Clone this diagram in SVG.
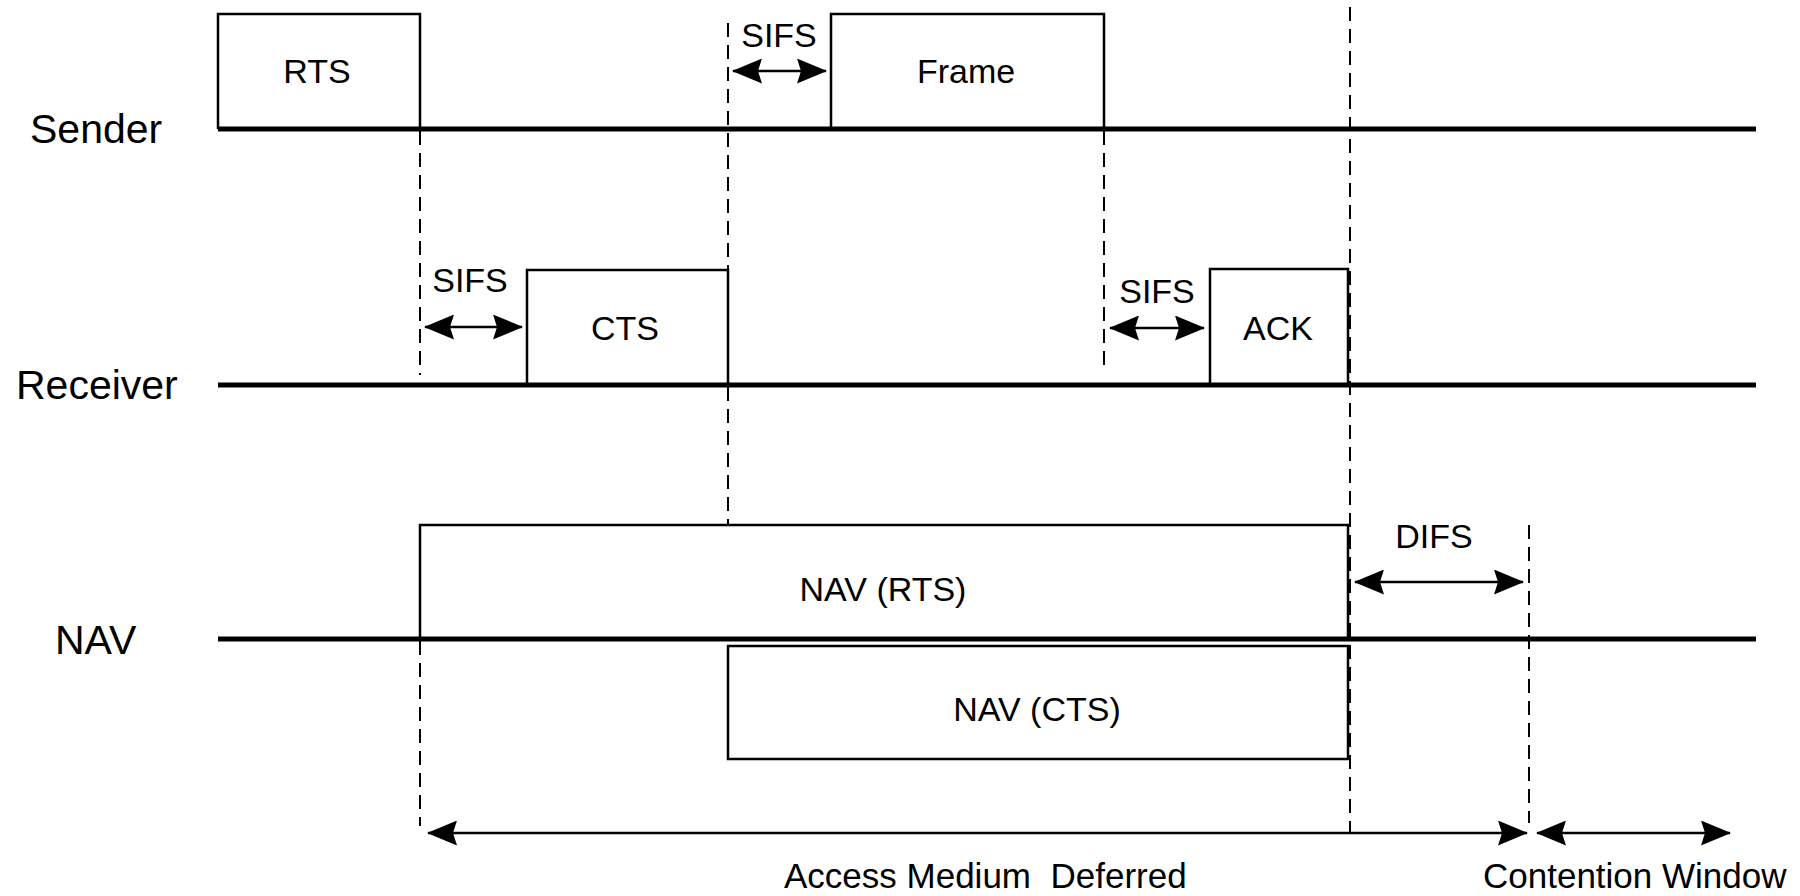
<svg xmlns="http://www.w3.org/2000/svg" width="1800" height="896" viewBox="0 0 1800 896">
<style>
  .lane { stroke:#000; stroke-width:5; fill:none; }
  .box { fill:none; stroke:#000; stroke-width:2.5; }
  .dash { stroke:#000; stroke-width:2; stroke-dasharray:14 8; fill:none; }
  .arr { stroke:#000; stroke-width:2.5; fill:none; marker-start:url(#ah); marker-end:url(#ah); }
  .lbl { font-family:"Liberation Sans", Arial, sans-serif; font-size:34px; fill:#000; text-anchor:middle; }
  .side { font-family:"Liberation Sans", Arial, sans-serif; font-size:41px; fill:#000; }
  .bot { font-family:"Liberation Sans", Arial, sans-serif; font-size:35px; fill:#000; }
</style>
<defs>
  <marker id="ah" viewBox="0 0 30 25" refX="29" refY="12.5" markerWidth="30" markerHeight="25" markerUnits="userSpaceOnUse" orient="auto-start-reverse">
    <path d="M0,0 L30,12.5 L0,25 L4,12.5 z" fill="#000"/>
  </marker>
</defs>
<rect width="1800" height="896" fill="#fff"/>

<g id="node-rts">
  <path class="box" d="M218,129 V14 H420 V129"/>
  <text class="lbl" x="317" y="83">RTS</text>
</g>
<g id="node-frame">
  <path class="box" d="M831,129 V14 H1104 V129"/>
  <text class="lbl" x="966" y="83">Frame</text>
</g>
<g id="node-cts">
  <path class="box" d="M527,385 V270 H728 V385"/>
  <text class="lbl" x="625" y="340">CTS</text>
</g>
<g id="node-ack">
  <path class="box" d="M1210,385 V269 H1348 V385"/>
  <text class="lbl" x="1278" y="340">ACK</text>
</g>
<g id="node-nav-rts">
  <path class="box" d="M420,639 V525 H1348 V639"/>
  <text class="lbl" x="883" y="601">NAV (RTS)</text>
</g>
<g id="node-nav-cts">
  <rect class="box" x="728" y="646" width="620" height="113"/>
  <text class="lbl" x="1037" y="721">NAV (CTS)</text>
</g>

<g id="lane-sender">
  <line class="lane" x1="218" y1="129" x2="1756" y2="129"/>
  <text class="side" x="30" y="143">Sender</text>
</g>
<g id="lane-receiver">
  <line class="lane" x1="218" y1="385" x2="1756" y2="385"/>
  <text class="side" x="16" y="399">Receiver</text>
</g>
<g id="lane-nav">
  <line class="lane" x1="218" y1="639" x2="1756" y2="639"/>
  <text class="side" x="55" y="654">NAV</text>
</g>

<g id="connectors">
  <line class="dash" x1="420" y1="131" x2="420" y2="375"/>
  <line class="dash" x1="420" y1="641" x2="420" y2="826"/>
  <line class="dash" x1="728" y1="23" x2="728" y2="270"/>
  <line class="dash" x1="728" y1="387" x2="728" y2="525"/>
  <line class="dash" x1="1104" y1="131" x2="1104" y2="373"/>
  <line class="dash" x1="1350" y1="7" x2="1350" y2="833"/>
  <line class="dash" x1="1529" y1="525" x2="1529" y2="823"/>

  <line class="arr" x1="733" y1="71" x2="826" y2="71"/>
  <line class="arr" x1="425" y1="327" x2="522" y2="327"/>
  <line class="arr" x1="1110" y1="328" x2="1204" y2="328"/>
  <line class="arr" x1="1355" y1="582" x2="1523" y2="582"/>
  <line class="arr" x1="428" y1="833" x2="1527" y2="833"/>
  <line class="arr" x1="1537" y1="833" x2="1730" y2="833"/>
</g>

<g id="labels">
  <text class="lbl" x="779" y="47">SIFS</text>
  <text class="lbl" x="470" y="292">SIFS</text>
  <text class="lbl" x="1157" y="303">SIFS</text>
  <text class="lbl" x="1434" y="548">DIFS</text>
  <text class="bot" x="784" y="888" xml:space="preserve">Access Medium  Deferred</text>
  <text class="bot" x="1483" y="888">Contention Window</text>
</g>
</svg>
